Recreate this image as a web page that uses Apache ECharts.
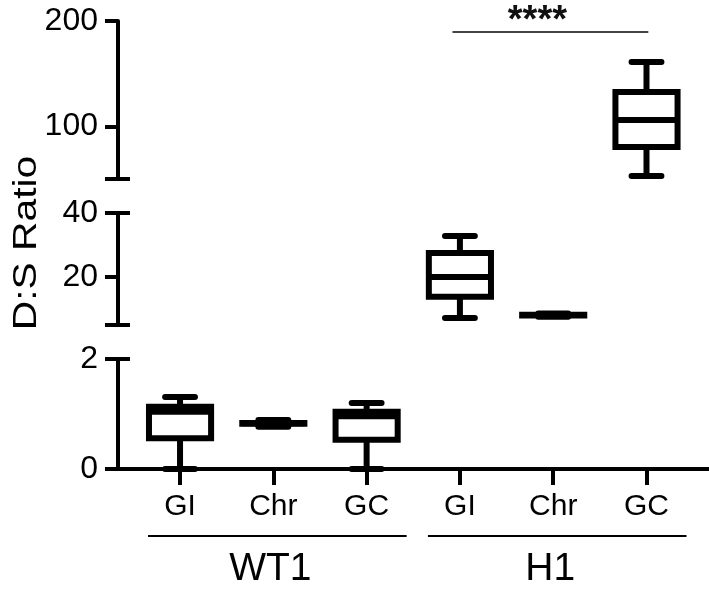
<!DOCTYPE html>
<html>
<head>
<meta charset="utf-8">
<script src="https://cdn.jsdelivr.net/npm/echarts@6.0.0/dist/echarts.min.js"></script>
<style>
    html, body { margin: 0; padding: 0; background: #fff; }
    #main { width: 709px; height: 596px; }
</style>
</head>
<body>
<div id="main"></div>
<script>
const categories = ['GI', 'Chr', 'GC', 'GI', 'Chr', 'GC'];
const groupNames = ['WT1', 'H1'];
const groupSpans = [[0, 2], [3, 5]];

// five-number summaries: [min, Q1, median, Q3, max]
const wt1GI = [0, 0.56, 1.04, 1.13, 1.31];
const wt1Chr = [0.77, 0.825, 0.83, 0.835, 0.89];
const wt1GC = [0, 0.53, 0.96, 1.04, 1.20];
const h1GI = [7.2, 13.8, 20, 27.5, 32.8];
const h1Chr = [7.6, 8.0, 8.1, 8.2, 8.6];
const h1GC = [52.8, 80.4, 106, 132.6, 161];

// broken y axis: three segments
const topRange = [50, 200], topTicks = [50, 100, 200], topLabels = [100, 200];
const midRange = [5, 40], midTicks = [5, 20, 40], midLabels = [20, 40];
const lowRange = [0, 2], lowTicks = [0, 2], lowLabels = [0, 2];

const sigPair = [3, 5];
const sigLevel = 189.6;
const sigText = '****';

const fontFamily = '"Liberation Sans", Arial, sans-serif';
const xMin = -0.665, xMax = 5.67;

const myChart = echarts.init(document.getElementById('main'));

function makeX(gridIndex, show) {
    return {
        gridIndex: gridIndex,
        type: 'value',
        min: xMin,
        max: xMax,
        show: show,
        axisLine: { onZero: false, lineStyle: { color: '#000', width: 4 } },
        axisTick: {
            customValues: categories.map((c, i) => i),
            length: 16,
            lineStyle: { color: '#000', width: 4 }
        },
        axisLabel: {
            customValues: categories.map((c, i) => i),
            formatter: v => categories[Math.round(v)],
            margin: 23,
            fontSize: 30,
            color: '#000',
            fontFamily: fontFamily
        },
        splitLine: { show: false }
    };
}

function makeY(gridIndex, range, ticks, labels) {
    return {
        gridIndex: gridIndex,
        type: 'value',
        position: 'left',
        min: range[0],
        max: range[1],
        axisLine: { show: true, onZero: false, lineStyle: { color: '#000', width: 4 } },
        axisTick: { show: true, length: 13, customValues: ticks, lineStyle: { color: '#000', width: 4 } },
        axisLabel: { customValues: labels, margin: 20, fontSize: 32, color: '#000', fontFamily: fontFamily },
        splitLine: { show: false }
    };
}

// inward ticks at the axis breaks
function makeBreak(gridIndex, range, ends) {
    return {
        gridIndex: gridIndex,
        type: 'value',
        position: 'left',
        offset: 0,
        min: range[0],
        max: range[1],
        axisLine: { show: false, onZero: false },
        axisTick: { show: true, inside: true, length: 12, customValues: ends, lineStyle: { color: '#000', width: 4 } },
        axisLabel: { show: false },
        splitLine: { show: false }
    };
}

function renderBox(params, api) {
    const x = api.value(0);
    const lo = api.coord([x, api.value(1)]);
    const q1 = api.coord([x, api.value(2)]);
    const med = api.coord([x, api.value(3)]);
    const q3 = api.coord([x, api.value(4)]);
    const hi = api.coord([x, api.value(5)]);
    const cx = lo[0];
    const unit = api.size([1, 0])[0];
    const hb = unit * 0.333;
    const hc = unit * 0.16;
    const line = { stroke: '#000', lineWidth: 6 };
    const cap = { stroke: '#000', lineWidth: 6, lineCap: 'round' };
    return {
        type: 'group',
        children: [
            { type: 'line', shape: { x1: cx, y1: q3[1], x2: cx, y2: hi[1] }, style: line },
            { type: 'line', shape: { x1: cx, y1: q1[1], x2: cx, y2: lo[1] }, style: line },
            { type: 'line', shape: { x1: cx - hc, y1: hi[1], x2: cx + hc, y2: hi[1] }, style: cap },
            { type: 'line', shape: { x1: cx - hc, y1: lo[1], x2: cx + hc, y2: lo[1] }, style: cap },
            { type: 'rect', shape: { x: cx - hb, y: q3[1], width: 2 * hb, height: q1[1] - q3[1] },
              style: { stroke: '#000', lineWidth: 6, fill: '#fff' } },
            { type: 'line', shape: { x1: cx - hb, y1: med[1], x2: cx + hb, y2: med[1] }, style: line }
        ]
    };
}

function renderSig(params, api) {
    const s = api.coord([api.value(0) - 0.08, api.value(2)]);
    const e = api.coord([api.value(1) + 0.02, api.value(2)]);
    return {
        type: 'group',
        children: [
            { type: 'line', shape: { x1: s[0], y1: s[1], x2: e[0], y2: e[1] }, style: { stroke: '#444', lineWidth: 2 } },
            { type: 'text', x: (s[0] + e[0]) / 2 - 13, y: s[1] + 9,
              style: { text: sigText, align: 'center', verticalAlign: 'bottom',
                       font: 'bold 38px ' + fontFamily, fill: '#111' } }
        ]
    };
}

function renderGroup(params, api) {
    const a = api.coord([api.value(0), 0]);
    const b = api.coord([api.value(1), 0]);
    return {
        type: 'group',
        children: [
            { type: 'line', shape: { x1: a[0] - 32, y1: a[1] + 67, x2: b[0] + 40, y2: a[1] + 67 },
              style: { stroke: '#000', lineWidth: 2 } },
            { type: 'text', x: (a[0] + b[0]) / 2 - 3, y: a[1] + 100,
              style: { text: groupNames[params.dataIndex], align: 'center', verticalAlign: 'middle',
                       font: '39px ' + fontFamily, fill: '#000' } }
        ]
    };
}

const option = {
    animation: false,
    grid: [
        { left: 118, right: 0, top: 21, height: 158, outerBoundsMode: 'none' },
        { left: 118, right: 0, top: 213, height: 112, outerBoundsMode: 'none' },
        { left: 118, right: 0, top: 359, height: 110, outerBoundsMode: 'none' }
    ],
    xAxis: [makeX(0, false), makeX(1, false), makeX(2, true)],
    yAxis: [
        makeY(0, topRange, topTicks, topLabels),
        makeBreak(0, topRange, [topRange[0]]),
        makeY(1, midRange, midTicks, midLabels),
        makeBreak(1, midRange, midRange),
        makeY(2, lowRange, lowTicks, lowLabels),
        makeBreak(2, lowRange, [lowRange[1]])
    ],
    graphic: [
        { type: 'text', x: 27, y: 243, rotation: Math.PI / 2, scaleX: 1.2,
          style: { text: 'D:S Ratio', align: 'center', verticalAlign: 'middle',
                   font: '34px ' + fontFamily, fill: '#000' } }
    ],
    series: [
        { type: 'custom', xAxisIndex: 0, yAxisIndex: 0, renderItem: renderBox, z: 5,
          data: [[5].concat(h1GC)] },
        { type: 'custom', xAxisIndex: 0, yAxisIndex: 0, renderItem: renderSig,
          data: [[sigPair[0], sigPair[1], sigLevel]] },
        { type: 'custom', xAxisIndex: 1, yAxisIndex: 2, renderItem: renderBox, z: 5,
          data: [[3].concat(h1GI), [4].concat(h1Chr)] },
        { type: 'custom', xAxisIndex: 2, yAxisIndex: 4, renderItem: renderBox, z: 5,
          data: [[0].concat(wt1GI), [1].concat(wt1Chr), [2].concat(wt1GC)] },
        { type: 'custom', xAxisIndex: 2, yAxisIndex: 4, renderItem: renderGroup, clip: false,
          data: groupSpans }
    ]
};

myChart.setOption(option);
</script>
</body>
</html>
